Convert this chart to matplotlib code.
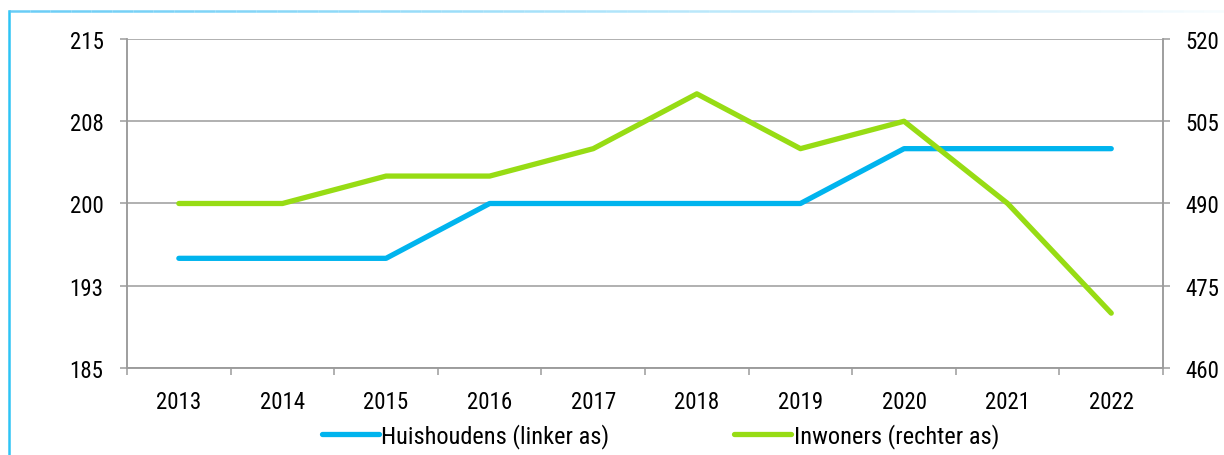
import numpy as np
import matplotlib
matplotlib.use("Agg")
import matplotlib.pyplot as plt
from matplotlib.collections import LineCollection
from matplotlib.lines import Line2D

# jaarcijfers, huishoudens links en inwoners rechts
years = ['2013', '2014', '2015', '2016', '2017', '2018', '2019', '2020', '2021', '2022']
huishoudens = [195, 195, 195, 200, 200, 200, 200, 205, 205, 205]
inwoners = [490, 490, 495, 495, 500, 510, 500, 505, 490, 470]

left_ticks = [185, 192.5, 200, 207.5, 215]
left_labels = ['185', '193', '200', '208', '215']
right_ticks = [460, 475, 490, 505, 520]

plt.rcParams['font.family'] = ['Roboto Condensed', 'DejaVu Sans']
BLUE = '#00b4ee'
GREEN = '#97dc14'
GREY = '#9b9b9b'
FS = 16.5

fig = plt.figure(figsize=(12.24, 4.56), dpi=100)
ax = fig.add_axes([0.1038, 0.1908, 0.8464, 0.7215])
ax2 = ax.twinx()

x = np.arange(len(years))
ax.plot(x, huishoudens, color=BLUE, lw=3.8, solid_capstyle='round', zorder=3)
ax2.plot(x, inwoners, color=GREEN, lw=3.8, solid_capstyle='round', zorder=3)

ax.set_xlim(-0.5, len(years) - 0.5)
ax.set_ylim(185, 215)
ax2.set_ylim(460, 520)
ax.set_yticks(left_ticks)
ax.set_yticklabels(left_labels)
ax2.set_yticks(right_ticks)

# jaartallen in het midden, tickstreepjes op de grenzen
ax.set_xticks(x)
ax.set_xticklabels(years)
ax.set_xticks(np.arange(-0.5, len(years)), minor=True)
ax.tick_params(axis='x', which='major', length=0, pad=16, labelsize=FS)
ax.tick_params(axis='x', which='minor', length=5, width=1.1, color=GREY, direction='out')
ax.tick_params(axis='y', length=5, width=1.1, color=GREY, pad=12, labelsize=FS)
ax2.tick_params(axis='y', length=5, width=1.1, color=GREY, pad=11, labelsize=FS)

ax.yaxis.grid(True, color=GREY, lw=1.1)
ax.set_axisbelow(True)
for a in (ax, ax2):
    a.spines['top'].set_visible(False)
    for side in ('left', 'right', 'bottom'):
        a.spines[side].set_color(GREY)
        a.spines[side].set_linewidth(1.1)

handles = [Line2D([], [], color=BLUE, lw=3.8, solid_capstyle='round'),
           Line2D([], [], color=GREEN, lw=3.8, solid_capstyle='round')]
fig.legend(handles, ['Huishoudens (linker as)', 'Inwoners (rechter as)'],
           loc='center', bbox_to_anchor=(0.5396, 0.042), ncol=2, frameon=False,
           fontsize=17.6, handlelength=2.33, handletextpad=0.1, columnspacing=5.1)

# kader: blauwe lijn links en vervagende lijn boven
fig.add_artist(Line2D([9 / 1224, 9 / 1224], [0, 1 - 12 / 456], transform=fig.transFigure,
                      color='#2ec4f5', lw=1.8))
xs = np.linspace(9 / 1224, 1.0, 60)
segs = [[(xs[i], 1 - 12 / 456), (xs[i + 1], 1 - 12 / 456)] for i in range(len(xs) - 1)]
alphas = np.linspace(0.9, 0.05, len(segs))
cols = [(0.35, 0.78, 0.96, a) for a in alphas]
fig.add_artist(LineCollection(segs, colors=cols, linewidths=1.8, transform=fig.transFigure))

fig.savefig('out.png', dpi=100)
